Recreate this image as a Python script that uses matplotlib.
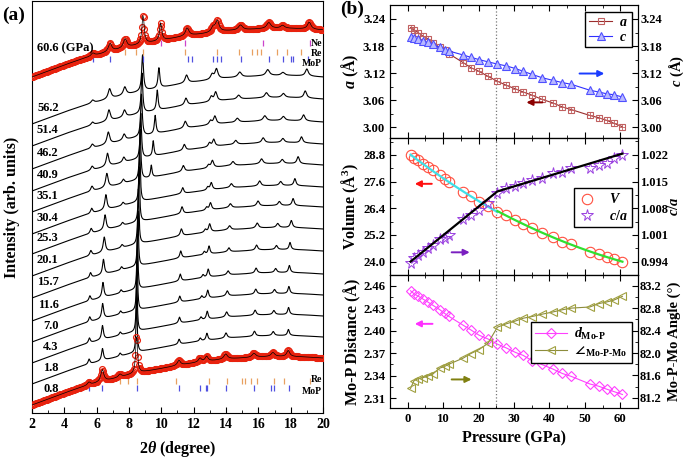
import numpy as np
import matplotlib
matplotlib.use("Agg")
import matplotlib.pyplot as plt
from matplotlib.ticker import MultipleLocator, FormatStrFormatter

# Fonts: bold Times-like everywhere
plt.rcParams['font.family'] = ['Liberation Serif', 'DejaVu Serif']
plt.rcParams['font.weight'] = 'bold'
plt.rcParams['axes.labelweight'] = 'bold'
plt.rcParams['mathtext.fontset'] = 'custom'
plt.rcParams['mathtext.rm'] = 'Liberation Serif:bold'
plt.rcParams['mathtext.it'] = 'Liberation Serif:italic:bold'
plt.rcParams['mathtext.bf'] = 'Liberation Serif:bold'
plt.rcParams['mathtext.fallback'] = 'stix'

# ---------------- (a) XRD patterns ----------------
xrd_labels = ['0.8', '1.8', '4.3', '7.0', '11.6', '15.7', '20.1', '25.3',
              '30.4', '35.1', '40.9', '46.2', '51.4', '56.2', '60.6 (GPa)']
xrd_offsets = [8, 29, 50, 71, 92, 115, 137, 159, 179, 201, 222, 244, 267, 289, 336]
xrd_label_y = [24, 45, 66, 87, 108, 131, 153, 175, 195, 217, 238, 260, 283, 305, 365]
xrd_width = [0.11, 0.07, 0.07, 0.07, 0.07, 0.07, 0.08, 0.08, 0.08, 0.09,
             0.09, 0.10, 0.10, 0.11, 0.13]

# background shape (same for every pattern)
bg_tt = [2, 3, 4, 5, 6, 7, 8, 9, 10, 11, 12, 13, 14, 15, 16, 17, 18, 19, 20]
bg_level = [0, 6, 12, 17.5, 22, 26, 30, 33.5, 36.5, 39.5, 42, 44, 46, 47,
            48, 48.5, 48.5, 48, 47]

# peak families: position (2theta) and height for every pattern
pk1_pos = [5.52, 5.53, 5.55, 5.57, 5.58, 5.62, 5.64, 5.66, 5.69, 5.71, 5.72, 5.73, 5.74, 5.75, 5.76]
pk1_h = [3, 5, 5, 5, 5, 5, 5, 5, 5, 5, 4, 4, 3, 3, 3]
pk2_pos = [6.35, 6.36, 6.36, 6.37, 6.39, 6.42, 6.47, 6.52, 6.57, 6.63, 6.67, 6.72, 6.76, 6.80, 6.83]
pk2_h = [12, 12, 14, 15, 15, 15, 15, 15, 15, 14, 13, 12, 11, 10, 8]
pk3_pos = [7.44, 7.45, 7.46, 7.48, 7.51, 7.54, 7.57, 7.60, 7.63, 7.65, 7.68, 7.70, 7.72, 7.74, 7.76]
pk3_h = [3, 3, 3, 3, 3, 3, 3, 3, 3, 4, 5, 6, 7, 8, 9]
pk4_pos = [8.47, 8.47, 8.48, 8.50, 8.52, 8.55, 8.58, 8.62, 8.66, 8.69, 8.73, 8.77, 8.80, 8.84, 8.87]
pk4_h = [40, 55, 55, 55, 55, 55, 55, 55, 55, 50, 45, 42, 40, 36, 30]
ne_pos = [9.0, 9.0, 9.0, 9.0, 9.0, 9.0, 9.0, 9.0, 9.0, 9.38, 9.50, 9.62, 9.75, 9.85, 9.96]
ne_h = [0, 0, 0, 0, 0, 0, 0, 0, 0, 12, 15, 18, 20, 20, 18]
pk6_pos = [11.09, 11.10, 11.12, 11.14, 11.17, 11.20, 11.24, 11.28, 11.32, 11.36, 11.42, 11.48, 11.52, 11.56, 11.60]
pk6_h = [5, 5, 6, 6, 7, 7, 7, 7, 6, 6, 6, 7, 7, 8, 8]
pk7_pos = [12.39, 12.41, 12.45, 12.50, 12.58, 12.66, 12.72, 12.80, 12.87, 12.92, 12.98, 13.04, 13.09, 13.14, 13.20]
pk7_h = [4, 3, 3, 3, 3, 3, 3, 3, 3, 3, 4, 4, 5, 5, 5]
pk8_pos = [12.80, 12.82, 12.84, 12.87, 12.90, 12.95, 12.99, 13.04, 13.09, 13.16, 13.24, 13.31, 13.36, 13.41, 13.46]
pk8_h = [5, 7, 8, 8, 8, 8, 8, 7, 7, 7, 7, 8, 9, 10, 11]
pk9_pos = [13.98, 14.00, 14.04, 14.08, 14.13, 14.18, 14.22, 14.27, 14.33, 14.43, 14.60, 14.70, 14.78, 14.85, 14.90]
pk9_h = [5, 5, 5, 5, 4, 4, 4, 4, 4, 4, 4, 4, 4, 5, 5]
pk10_pos = [15.73, 15.76, 15.80, 15.84, 15.86, 15.89, 15.93, 15.98, 16.08, 16.20, 16.30, 16.40, 16.50, 16.58, 16.65]
pk10_h = [4, 5, 5, 5, 5, 5, 5, 5, 5, 5, 5, 5, 5, 6, 6]
pk11_pos = [16.90, 16.92, 16.96, 17.00, 17.07, 17.12, 17.20, 17.30, 17.38, 17.48, 17.52, 17.55, 17.55, 17.52, 17.50]
pk11_h = [4, 4, 4, 4, 4, 4, 4, 4, 4, 4, 4, 4, 4, 3, 3]
pk12_pos = [17.85, 17.86, 17.87, 17.89, 17.92, 17.96, 18.04, 18.15, 18.26, 18.46, 18.67, 18.80, 18.90, 19.00, 19.15]
pk12_h = [6, 6, 7, 7, 7, 7, 7, 7, 7, 7, 6, 6, 7, 7, 7]

# Bragg reflection markers
ne_ticks_top = [9.98, 11.46, 16.3, 19.2]
re_ticks_top = [7.75, 8.43, 8.84, 11.46, 13.45, 14.8, 15.6, 15.93, 16.14, 17.17, 17.76, 18.64]
mop_ticks_top = [5.75, 6.82, 8.87, 11.63, 11.88, 13.2, 13.46, 13.69, 14.9, 16.67, 17.5, 18.0, 18.16, 19.09]
re_ticks_bot = [7.44, 7.92, 8.47, 10.88, 12.97, 14.04, 15.0, 15.2, 15.52, 15.89, 16.98, 17.58, 19.19]
mop_ticks_bot = [5.52, 6.35, 8.47, 11.09, 12.39, 12.76, 12.84, 13.98, 15.73, 16.76, 16.97, 17.9]

# ---------------- (b) lattice parameters ----------------
pressure = [0.8, 1.8, 2.9, 4.3, 5.7, 7.0, 9.0, 10.4, 11.6, 15.7, 17.8, 20.1, 22.6, 25.3,
            27.8, 30.4, 32.6, 35.1, 37.8, 40.9, 43.6, 46.2, 51.4, 53.9, 56.2, 58.1, 60.6]
lat_a = [3.221, 3.215, 3.210, 3.202, 3.196, 3.187, 3.177, 3.171, 3.163, 3.143, 3.132, 3.124,
         3.113, 3.102, 3.093, 3.085, 3.078, 3.071, 3.062, 3.054, 3.045, 3.039, 3.026, 3.021,
         3.015, 3.009, 3.001]
lat_c = [3.201, 3.197, 3.195, 3.191, 3.188, 3.184, 3.177, 3.172, 3.169, 3.160, 3.155, 3.150,
         3.145, 3.140, 3.136, 3.130, 3.124, 3.117, 3.110, 3.104, 3.099, 3.095, 3.082, 3.078,
         3.074, 3.072, 3.067]
volume = [28.80, 28.68, 28.55, 28.40, 28.25, 28.10, 27.90, 27.71, 27.56, 27.15, 26.93, 26.70,
          26.48, 26.25, 26.10, 25.88, 25.70, 25.50, 25.28, 25.10, 24.90, 24.78, 24.45, 24.35,
          24.23, 24.12, 23.97]
c_over_a = [0.9936, 0.9949, 0.9958, 0.9964, 0.9975, 0.9984, 0.9999, 1.0001, 1.0010, 1.0052,
            1.0063, 1.0076, 1.0093, 1.0119, 1.0133, 1.0137, 1.0147, 1.0153, 1.0159, 1.0172,
            1.0176, 1.0185, 1.0185, 1.0194, 1.0198, 1.0211, 1.0220]
ca_fit_p = [0.8, 25.3, 60.6]
ca_fit_v = [0.9940, 1.0124, 1.0223]
d_mop = [2.453, 2.449, 2.446, 2.442, 2.438, 2.434, 2.428, 2.423, 2.419, 2.407, 2.401, 2.394,
         2.389, 2.382, 2.377, 2.371, 2.367, 2.360, 2.355, 2.349, 2.343, 2.339, 2.329, 2.326,
         2.322, 2.319, 2.315]
angle_mopmo = [81.37, 81.51, 81.54, 81.56, 81.59, 81.62, 81.73, 81.76, 81.80, 81.91, 81.99,
               82.06, 82.17, 82.46, 82.52, 82.57, 82.62, 82.65, 82.69, 82.73, 82.77, 82.80,
               82.82, 82.88, 82.91, 82.94, 83.01]
p_transition = 25.0


def lorentz(x, x0, h, w):
    return h * w ** 2 / ((x - x0) ** 2 + w ** 2)


fig = plt.figure(figsize=(6.85, 4.58), dpi=100)

# ---------------- panel (a) ----------------
ax = fig.add_axes([32 / 685, 45 / 458, 291 / 685, 412 / 458])

families = [(pk1_pos, pk1_h, 1.0), (pk2_pos, pk2_h, 1.0), (pk3_pos, pk3_h, 1.0),
            (pk4_pos, pk4_h, 0.6), (ne_pos, ne_h, 0.6), (pk6_pos, pk6_h, 1.0),
            (pk7_pos, pk7_h, 1.0), (pk8_pos, pk8_h, 1.0), (pk9_pos, pk9_h, 1.2),
            (pk10_pos, pk10_h, 1.2), (pk11_pos, pk11_h, 1.2), (pk12_pos, pk12_h, 1.0)]

tt = np.arange(2, 20.001, 0.01)
tt_red = np.arange(2, 20.001, 0.05)

for i, lab in enumerate(xrd_labels):
    red = i == 0 or i == len(xrd_labels) - 1
    grid = tt_red if red else tt
    y = xrd_offsets[i] + np.interp(grid, bg_tt, bg_level)
    for pos, h, wf in families:
        y = y + lorentz(grid, pos[i], h[i], xrd_width[i] * wf)
    if red:
        ax.plot(grid, y, ls='none', marker='o', ms=4.2, mfc='none',
                mec='#e8220e', mew=0.9, zorder=3)
        ax.plot(grid, y, color='black', lw=0.5, zorder=4)
    else:
        ax.plot(grid, y, color='black', lw=0.8, zorder=2)
    if i == len(xrd_labels) - 1:
        ax.text(2.3, xrd_label_y[i], lab, ha='left', va='center', fontsize=9)
    else:
        ax.text(3.65, xrd_label_y[i], lab, ha='right', va='center', fontsize=9)

# Bragg markers
ax.vlines(ne_ticks_top, 367, 373, color='#cc44cc', lw=0.9)
ax.vlines(re_ticks_top, 358, 364, color='#e8a060', lw=0.9)
ax.vlines(mop_ticks_top, 351, 357, color='#5050e0', lw=0.9)
ax.vlines(re_ticks_bot, 29, 35, color='#e8a060', lw=0.9)
ax.vlines(mop_ticks_bot, 22, 28, color='#5050e0', lw=0.9)
ax.text(19.95, 370, 'Ne', ha='right', va='center', fontsize=7)
ax.text(19.95, 360, 'Re', ha='right', va='center', fontsize=7)
ax.text(19.95, 350, 'MoP', ha='right', va='center', fontsize=7)
ax.text(19.95, 34, 'Re', ha='right', va='center', fontsize=7)
ax.text(19.95, 21, 'MoP', ha='right', va='center', fontsize=7)

ax.set_xlim(2, 20)
ax.set_ylim(0, 412)
ax.set_yticks([])
ax.xaxis.set_major_locator(MultipleLocator(2))
ax.xaxis.set_minor_locator(MultipleLocator(1))
ax.tick_params(axis='x', which='both', direction='in', labelsize=10)
ax.tick_params(axis='x', which='major', length=4)
ax.tick_params(axis='x', which='minor', length=2)
ax.set_xlabel(r'2$\theta$ (degree)', fontsize=11.5)
ax.xaxis.set_label_coords(0.5, -0.063)
ax.set_ylabel('Intensity (arb. units)', fontsize=11.5)
ax.yaxis.set_label_coords(-0.04, 0.5)
fig.text(2 / 685, 1 - 15 / 458, '(a)', fontsize=14, fontweight='bold', va='center')
fig.text(340 / 685, 1 - 9 / 458, '(b)', fontsize=14, fontweight='bold', va='center')

# ---------------- panel (b) ----------------
bx = 390 / 685
bw = 248 / 685
ax1 = fig.add_axes([bx, 320 / 458, bw, 133 / 458])
ax2 = fig.add_axes([bx, 183 / 458, bw, 137 / 458])
ax3 = fig.add_axes([bx, 50 / 458, bw, 133 / 458])


def style_axes(a, t):
    a.set_xlim(-5, 65)
    a.xaxis.set_major_locator(MultipleLocator(10))
    a.xaxis.set_minor_locator(MultipleLocator(5))
    a.tick_params(which='both', direction='in', top=True, labelsize=9.2)
    a.tick_params(which='major', length=4)
    a.tick_params(which='minor', length=2)
    t.tick_params(which='both', direction='in', labelsize=9, pad=1.5)
    t.tick_params(which='major', length=4)
    t.tick_params(which='minor', length=2)
    a.axvline(p_transition, color='#777777', ls=':', lw=0.9, zorder=0)


def arrow(a, x0, x1, y, color):
    a.annotate('', xy=(x1, y), xytext=(x0, y),
               arrowprops=dict(arrowstyle='-|>', color=color, lw=1.4,
                               mutation_scale=9, shrinkA=0, shrinkB=0))


# top: a and c
t1 = ax1.twinx()
style_axes(ax1, t1)
la, = ax1.plot(pressure, lat_a, color='#9b2d2d', lw=0.8, marker='s', ms=5,
               mfc='none', mec='#c06060', mew=0.8, label=r'$a$')
ax1.plot(pressure, lat_a, ls='none', marker='+', ms=4, mec='#c06060', mew=0.6)
lc, = ax1.plot(pressure, lat_c, color='#3030ff', lw=0.8, marker='^', ms=5.5,
               mfc='#b8b8ff', mec='#5050ff', mew=0.8, label=r'$c$')
for a_ in (ax1, t1):
    a_.set_ylim(2.976, 3.271)
    a_.yaxis.set_major_locator(MultipleLocator(0.06))
    a_.yaxis.set_minor_locator(MultipleLocator(0.03))
    a_.yaxis.set_major_formatter(FormatStrFormatter('%.2f'))
ax1.tick_params(labelbottom=False)
arrow(ax1, 48.5, 55.5, 3.119, '#1a3cff')
arrow(ax1, 38.0, 33.5, 3.055, '#8b0000')
ax1.legend(handles=[la, lc], loc='upper right', bbox_to_anchor=(0.985, 0.965),
           fancybox=False, edgecolor='black', fontsize=10, handlelength=1.7,
           borderpad=0.25, labelspacing=0.15, handletextpad=0.5, framealpha=1,
           borderaxespad=0.2)
ax1.set_ylabel(r'$a$ (Å)', fontsize=11.5)
t1.set_ylabel(r'$c$ (Å)', fontsize=10.5)

# middle: V and c/a
t2 = ax2.twinx()
style_axes(ax2, t2)
p_arr = np.array(pressure)
v_arr = np.array(volume)
low = p_arr <= p_transition + 0.5
high = p_arr >= p_transition - 0.5
fit_lo = np.polyfit(p_arr[low], v_arr[low], 2)
fit_hi = np.polyfit(p_arr[high], v_arr[high], 2)
pl = np.linspace(p_arr[low].min(), p_arr[low].max(), 50)
ph = np.linspace(p_arr[high].min(), p_arr[high].max(), 50)
lv, = ax2.plot(pressure, volume, ls='none', marker='o', ms=7.5, mfc='none',
               mec='#ff5040', mew=0.8, label=r'$V$')
ax2.plot(pl, np.polyval(fit_lo, pl), color='#40e0e8', lw=1.6)
ax2.plot(ph, np.polyval(fit_hi, ph), color='#30e030', lw=1.6)
lca, = t2.plot(pressure, c_over_a, ls='none', marker='*', ms=8.5, mfc='none',
               mec='#9a40e0', mew=0.7, label=r'$c/a$')
t2.plot(ca_fit_p, ca_fit_v, color='black', lw=1.6)
ax2.set_ylim(23.4, 29.56)
ax2.yaxis.set_major_locator(MultipleLocator(1.2))
ax2.yaxis.set_minor_locator(MultipleLocator(0.6))
ax2.yaxis.set_major_formatter(FormatStrFormatter('%.1f'))
t2.set_ylim(0.9905, 1.0264)
t2.set_yticks([0.994, 1.001, 1.008, 1.015, 1.022])
t2.yaxis.set_minor_locator(MultipleLocator(0.0035))
t2.yaxis.set_major_formatter(FormatStrFormatter('%.3f'))
ax2.tick_params(labelbottom=False)
arrow(ax2, 6.8, 2.0, 27.5, '#ff1010')
arrow(ax2, 12.4, 17.5, 24.42, '#7a1fc0')
ax2.legend(handles=[lv, lca], loc='center right', bbox_to_anchor=(0.985, 0.49),
           fancybox=False, edgecolor='black', fontsize=10, handlelength=1.3,
           borderpad=0.3, labelspacing=0.2, handletextpad=0.9, framealpha=1,
           borderaxespad=0.2)
ax2.set_ylabel(r'Volume (Å$^3$)', fontsize=11.5)
t2.set_ylabel(r'$c/a$', fontsize=10.5)

# bottom: Mo-P distance and angle
t3 = ax3.twinx()
style_axes(ax3, t3)
ld, = ax3.plot(pressure, d_mop, color='#ff40ff', lw=0.8, marker='D', ms=5,
               mfc='none', mec='#ff40ff', mew=0.8,
               label=r'$d_{\mathrm{Mo}\text{-}\mathrm{P}}$')
lg, = t3.plot(pressure, angle_mopmo, color='#8c8c3c', lw=0.8, marker='<', ms=5.5,
              mfc='none', mec='#a0a040', mew=0.8,
              label=r'$\angle_{\mathrm{Mo}\text{-}\mathrm{P}\text{-}\mathrm{Mo}}$')
ax3.set_ylim(2.297, 2.474)
ax3.yaxis.set_major_locator(MultipleLocator(0.03))
ax3.yaxis.set_minor_locator(MultipleLocator(0.015))
ax3.yaxis.set_major_formatter(FormatStrFormatter('%.2f'))
t3.set_ylim(81.02, 83.39)
t3.yaxis.set_major_locator(MultipleLocator(0.4))
t3.yaxis.set_minor_locator(MultipleLocator(0.2))
t3.yaxis.set_major_formatter(FormatStrFormatter('%.1f'))
arrow(ax3, 7.0, 2.0, 2.409, '#ff30ff')
arrow(ax3, 12.4, 18.0, 2.335, '#808010')
ax3.legend(handles=[ld, lg], loc='center right', bbox_to_anchor=(0.985, 0.49),
           fancybox=False, edgecolor='black', fontsize=10, handlelength=2.3,
           borderpad=0.3, labelspacing=0.2, handletextpad=0.5, framealpha=1,
           borderaxespad=0.2)
ax3.set_ylabel('Mo-P Distance (Å)', fontsize=11.5)
t3.set_ylabel('Mo-P-Mo Angle (°)', fontsize=10.5)
ax3.set_xlabel('Pressure (GPa)', fontsize=11.5)
ax3.xaxis.set_label_coords(0.5, -0.17)

for a_ in (ax1, ax2, ax3):
    a_.yaxis.set_label_coords(-0.115, 0.5)
for t_ in (t1, t2, t3):
    t_.yaxis.set_label_coords(1.118, 0.5)

fig.savefig('out.png', dpi=100)
